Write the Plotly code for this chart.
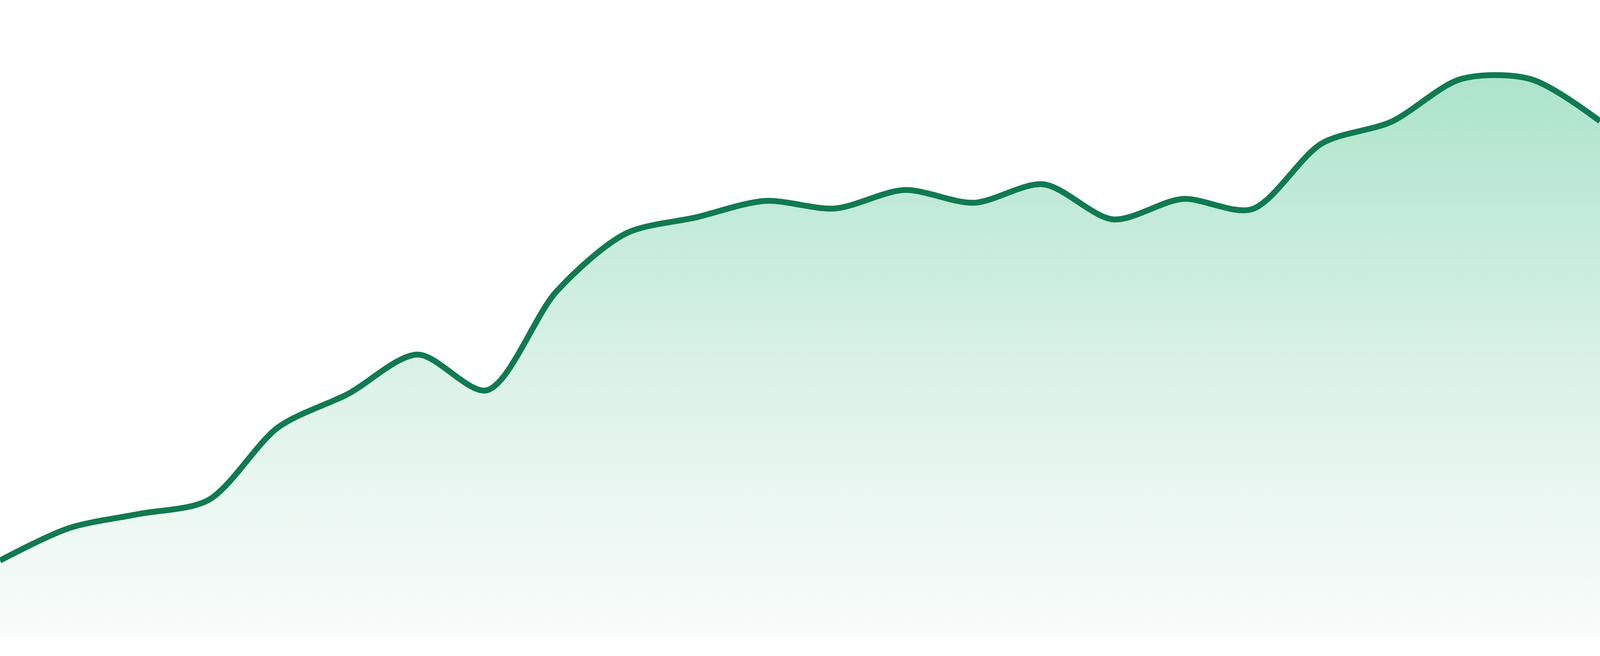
import plotly.graph_objects as go

# 24 evenly spaced samples
steps = list(range(24))
values = [12.1, 17.2, 19.4, 21.6, 33.0, 38.2, 44.4, 38.8, 54.3, 63.4, 65.9, 68.5,
          67.3, 70.2, 68.2, 71.1, 65.6, 68.8, 67.2, 77.5, 80.9, 87.6, 87.6, 81.0]

line_color = "#107a50"

fig = go.Figure()
fig.add_trace(go.Scatter(
    x=steps,
    y=values,
    mode="lines",
    line=dict(color=line_color, width=15, shape="spline", smoothing=0.85),
    fill="tozeroy",
    fillgradient=dict(
        type="vertical",
        start=0,
        stop=max(values),
        colorscale=[
            [0.0, "#f8fcfa"],
            [0.25, "#ebf7f2"],
            [0.5, "#d9f1e6"],
            [0.75, "#c3ebd9"],
            [1.0, "#ade4cb"],
        ],
    ),
    hoverinfo="skip",
))

fig.update_layout(
    autosize=True,
    margin=dict(l=0, r=0, t=0, b=47),
    paper_bgcolor="white",
    plot_bgcolor="white",
    showlegend=False,
    xaxis=dict(visible=False, range=[0, 23]),
    yaxis=dict(visible=False, range=[0, 100]),
)

# size the chart to the browser window and drop the default page margin
fig.write_html(
    "out.html",
    config={"displayModeBar": False, "responsive": True},
    default_width="100vw",
    default_height="100vh",
    post_script="document.body.style.margin = '0';",
)
